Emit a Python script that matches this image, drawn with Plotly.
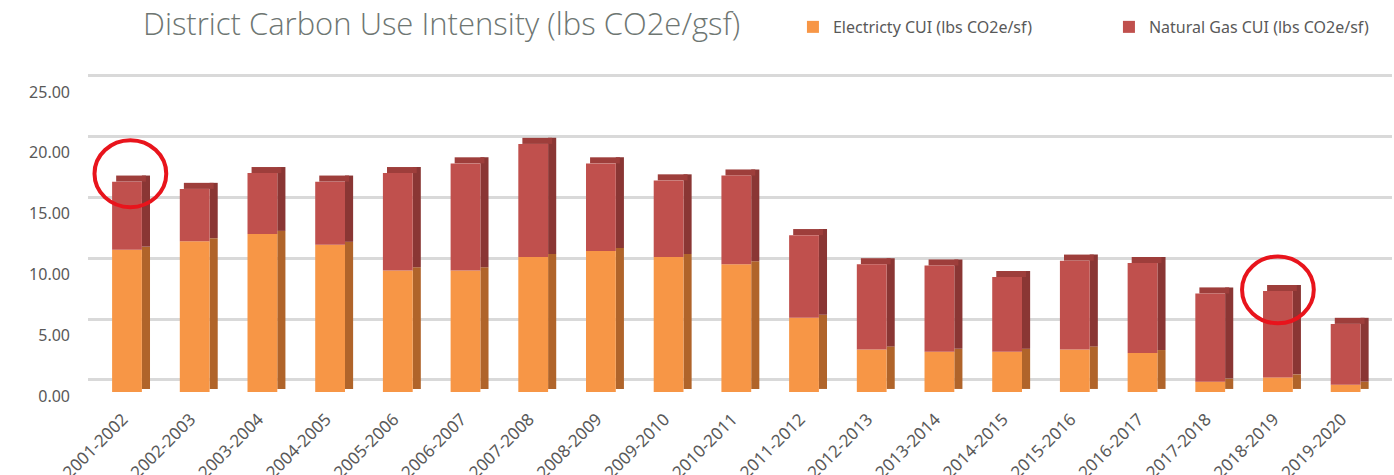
import plotly.graph_objects as go

categories = ["2001-2002", "2002-2003", "2003-2004", "2004-2005", "2005-2006",
              "2006-2007", "2007-2008", "2008-2009", "2009-2010", "2010-2011",
              "2011-2012", "2012-2013", "2013-2014", "2014-2015", "2015-2016",
              "2016-2017", "2017-2018", "2018-2019", "2019-2020"]
electricity = [11.7, 12.4, 13.0, 12.1, 10.0, 10.0, 11.1, 11.6, 11.1, 10.5,
               6.1, 3.5, 3.3, 3.3, 3.5, 3.2, 0.85, 1.2, 0.6]
total = [17.3, 16.7, 18.0, 17.3, 18.0, 18.8, 20.4, 18.8, 17.4, 17.8,
         12.9, 10.5, 10.4, 9.45, 10.8, 10.6, 8.1, 8.3, 5.6]
natural_gas = [round(t - e, 2) for t, e in zip(total, electricity)]
y_ticks = [0, 5, 10, 15, 20, 25]
y_tick_labels = ["0.00", "5.00", "10.00", "15.00", "20.00", "25.00"]
highlight_idx = [0, 17]

ORANGE = "#F79646"
ORANGE_SIDE = "#B0642A"
RED = "#C0504D"
RED_SIDE = "#8A3634"
RED_TOP = "#9E3E3B"

W = 0.44      # front face width (category units)
SW = 0.12     # side face width
D = 0.5       # depth rise (value units)

n = len(categories)
side_e_base = [D * 0.5] * n
side_g_base = [e + D * 0.5 for e in electricity]
side_g_h = [g + D * 0.5 for g in natural_gas]
cap_h = [D] * n

fig = go.Figure()
# invisible helper so the back-wall grid axis is drawn
fig.add_scatter(x=[categories[0]], y=[0], yaxis="y2", mode="markers",
                marker=dict(opacity=0), showlegend=False, hoverinfo="skip")
# side faces
fig.add_bar(x=categories, y=electricity, base=side_e_base, offset=W / 2, width=SW,
            marker=dict(color=ORANGE_SIDE, line=dict(width=0)), showlegend=False, hoverinfo="skip")
fig.add_bar(x=categories, y=side_g_h, base=side_g_base, offset=W / 2, width=SW,
            marker=dict(color=RED_SIDE, line=dict(width=0)), showlegend=False, hoverinfo="skip")
# top caps
fig.add_bar(x=categories, y=cap_h, base=total, offset=-W / 2 + SW / 2, width=W,
            marker=dict(color=RED_TOP, line=dict(width=0)), showlegend=False, hoverinfo="skip")
# front faces
fig.add_bar(x=categories, y=electricity, base=[0] * n, offset=-W / 2, width=W,
            name="Electricty CUI (lbs CO2e/sf)", marker=dict(color=ORANGE, line=dict(width=0)))
fig.add_bar(x=categories, y=natural_gas, base=electricity, offset=-W / 2, width=W,
            name="Natural Gas CUI (lbs CO2e/sf)", marker=dict(color=RED, line=dict(width=0)))

# highlight circles
shapes = []
for i, dx, dy in zip(highlight_idx, [0.05, 0.0], [0.65, 0.1]):
    shapes.append(dict(type="circle", xref="x", yref="y",
                       x0=i + dx - 0.53, x1=i + dx + 0.53,
                       y0=total[i] + dy - 2.75, y1=total[i] + dy + 2.75,
                       line=dict(color="#E8141C", width=4)))

y_lo, y_hi = -0.33, 26.48
shift = 1.0
fig.update_layout(
    width=1394, height=475,
    margin=dict(l=88, r=2, t=70, b=79, autoexpand=False),
    paper_bgcolor="white", plot_bgcolor="white",
    barmode="overlay",
    font=dict(family="Noto Sans", size=16, color="#595959"),
    title=dict(text="District Carbon Use Intensity (lbs CO2e/gsf)",
               font=dict(family="Open Sans", size=31, color="#6E7672", weight=300),
               x=143 / 1394, xanchor="left", xref="container",
               y=1 - 24 / 475, yanchor="middle", yref="container"),
    legend=dict(orientation="h", x=0.5406, xanchor="left", y=1.132, yanchor="middle",
                font=dict(family="Noto Sans", size=16, color="#595959"),
                entrywidth=271, entrywidthmode="pixels", itemwidth=30,
                traceorder="normal", bgcolor="rgba(0,0,0,0)"),
    xaxis=dict(type="category", range=[-0.576, 18.685], tickangle=-45,
               showgrid=False, showline=False, ticks="", ticklabelstandoff=9,
               ticklabelshift=-4,
               tickfont=dict(family="Noto Sans", size=17, color="#595959")),
    yaxis=dict(range=[y_lo, y_hi], tickvals=y_ticks, ticktext=y_tick_labels,
               showgrid=False, zeroline=False, showline=False, ticks="",
               ticklabelstandoff=17, ticklabelshift=4,
               tickfont=dict(family="Noto Sans", size=16, color="#595959")),
    yaxis2=dict(range=[y_lo - shift, y_hi - shift], overlaying="y", side="left",
                tickvals=y_ticks, showticklabels=False, showgrid=True,
                gridcolor="#D9D9D9", gridwidth=3, zeroline=False, showline=False),
    shapes=shapes,
)
fig.write_html("out.html", config={"displayModeBar": False},
               post_script="document.body.style.margin='0';")
